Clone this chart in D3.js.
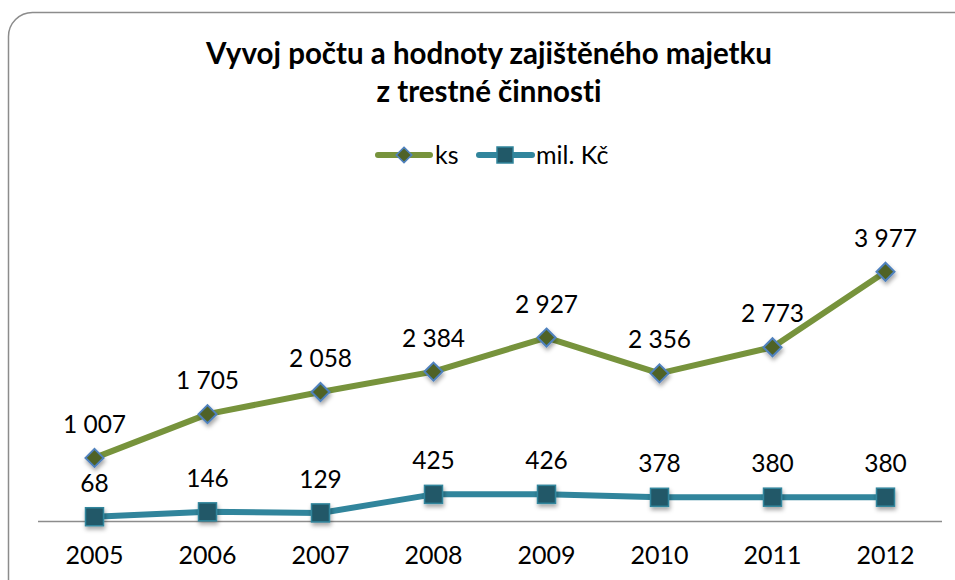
<html lang="cs">
<head>
<meta charset="utf-8">
<title>Vyvoj počtu a hodnoty zajištěného majetku</title>
<script src="https://d3js.org/d3.v7.min.js"></script>
<style>
  body { margin: 0; background: #fff; }
  text { font-family: Lato, "Open Sans", sans-serif; fill: #000; font-variant-ligatures: none; }
</style>
</head>
<body>
<script>
// data
var years = ["2005", "2006", "2007", "2008", "2009", "2010", "2011", "2012"];
var ks = [1007, 1705, 2058, 2384, 2927, 2356, 2773, 3977];
var milKc = [68, 146, 129, 425, 426, 378, 380, 380];
var seriesNames = ["ks", "mil. Kč"];

var w = 955, h = 580;

var svg = d3.select("body").append("svg")
  .attr("width", w).attr("height", h);

var defs = svg.append("defs");
var f = defs.append("filter").attr("id", "shadow")
  .attr("x", "-50%").attr("y", "-50%").attr("width", "200%").attr("height", "200%");
f.append("feDropShadow").attr("dx", 1).attr("dy", 3).attr("stdDeviation", 2)
  .attr("flood-color", "#000").attr("flood-opacity", 0.35);

// chart border (rounded, runs off right and bottom)
svg.append("rect")
  .attr("x", 8.5).attr("y", 12.5).attr("width", 975).attr("height", 620)
  .attr("rx", 24).attr("fill", "none").attr("stroke", "#8c8c8c").attr("stroke-width", 1.5);

// title
var title = svg.append("text").attr("text-anchor", "middle")
  .attr("font-size", "29.5px").attr("font-weight", "bold");
title.append("tspan").attr("x", 489).attr("y", 64).text("Vyvoj počtu a hodnoty zajištěného majetku");
title.append("tspan").attr("x", 489).attr("y", 102).text("z trestné činnosti");

var x = d3.scaleBand().domain(years).range([38, 942]);
var y = d3.scaleLinear().domain([0, 4500]).range([521, 239]);

// axis
svg.append("line").attr("x1", 38).attr("x2", 942).attr("y1", 521.5).attr("y2", 521.5)
  .attr("stroke", "#8c8c8c").attr("stroke-width", 1.5);

svg.selectAll(".xlab").data(years).enter().append("text")
  .attr("class", "xlab")
  .attr("x", function(d) { return x(d) + x.bandwidth() / 2; })
  .attr("y", 564)
  .attr("text-anchor", "middle")
  .attr("font-size", "25px")
  .text(function(d) { return d; });

function cx(i) { return x(years[i]) + x.bandwidth() / 2; }

var fmt = function(v) { return d3.format(",")(v).replace(/,/g, " "); };

var line = d3.line()
  .x(function(d, i) { return cx(i); })
  .y(function(d) { return y(d); });

// ks series
svg.append("path").datum(ks).attr("d", line)
  .attr("fill", "none").attr("stroke", "#77933c").attr("stroke-width", 6)
  .attr("stroke-linejoin", "round");

// mil. Kc series
svg.append("path").datum(milKc).attr("d", line)
  .attr("fill", "none").attr("stroke", "#31859c").attr("stroke-width", 6)
  .attr("stroke-linejoin", "round");

var diamond = "M0,-9L9,0L0,9L-9,0Z";

svg.selectAll(".dia").data(ks).enter().append("path")
  .attr("class", "dia")
  .attr("d", diamond)
  .attr("transform", function(d, i) { return "translate(" + cx(i) + "," + y(d) + ")"; })
  .attr("fill", "#4f6228").attr("stroke", "#4f81bd").attr("stroke-width", 2)
  .attr("filter", "url(#shadow)");

svg.selectAll(".sq").data(milKc).enter().append("rect")
  .attr("class", "sq")
  .attr("x", function(d, i) { return cx(i) - 9; })
  .attr("y", function(d) { return y(d) - 9; })
  .attr("width", 18).attr("height", 18)
  .attr("fill", "#215968").attr("stroke", "#31859c").attr("stroke-width", 1.5)
  .attr("filter", "url(#shadow)");

// data labels
svg.selectAll(".lks").data(ks).enter().append("text")
  .attr("x", function(d, i) { return cx(i); })
  .attr("y", function(d) { return y(d) - 25; })
  .attr("text-anchor", "middle").attr("font-size", "24.5px")
  .text(fmt);

svg.selectAll(".lmil").data(milKc).enter().append("text")
  .attr("x", function(d, i) { return cx(i); })
  .attr("y", function(d) { return y(d) - 25; })
  .attr("text-anchor", "middle").attr("font-size", "24.5px")
  .text(fmt);

// legend
var lg = svg.append("g");
lg.append("line").attr("x1", 378).attr("x2", 430).attr("y1", 155).attr("y2", 155)
  .attr("stroke", "#77933c").attr("stroke-width", 6).attr("stroke-linecap", "round");
lg.append("path").attr("d", diamond).attr("transform", "translate(404,155) scale(0.85)")
  .attr("fill", "#4f6228").attr("stroke", "#4f81bd").attr("stroke-width", 2);
lg.append("text").attr("x", 435).attr("y", 164).attr("font-size", "25px").text(seriesNames[0]);

lg.append("line").attr("x1", 479).attr("x2", 532).attr("y1", 155).attr("y2", 155)
  .attr("stroke", "#31859c").attr("stroke-width", 6).attr("stroke-linecap", "round");
lg.append("rect").attr("x", 497).attr("y", 147).attr("width", 16).attr("height", 16)
  .attr("fill", "#215968").attr("stroke", "#31859c").attr("stroke-width", 1.5);
lg.append("text").attr("x", 536).attr("y", 164).attr("font-size", "25px").text(seriesNames[1]);
</script>
</body>
</html>
